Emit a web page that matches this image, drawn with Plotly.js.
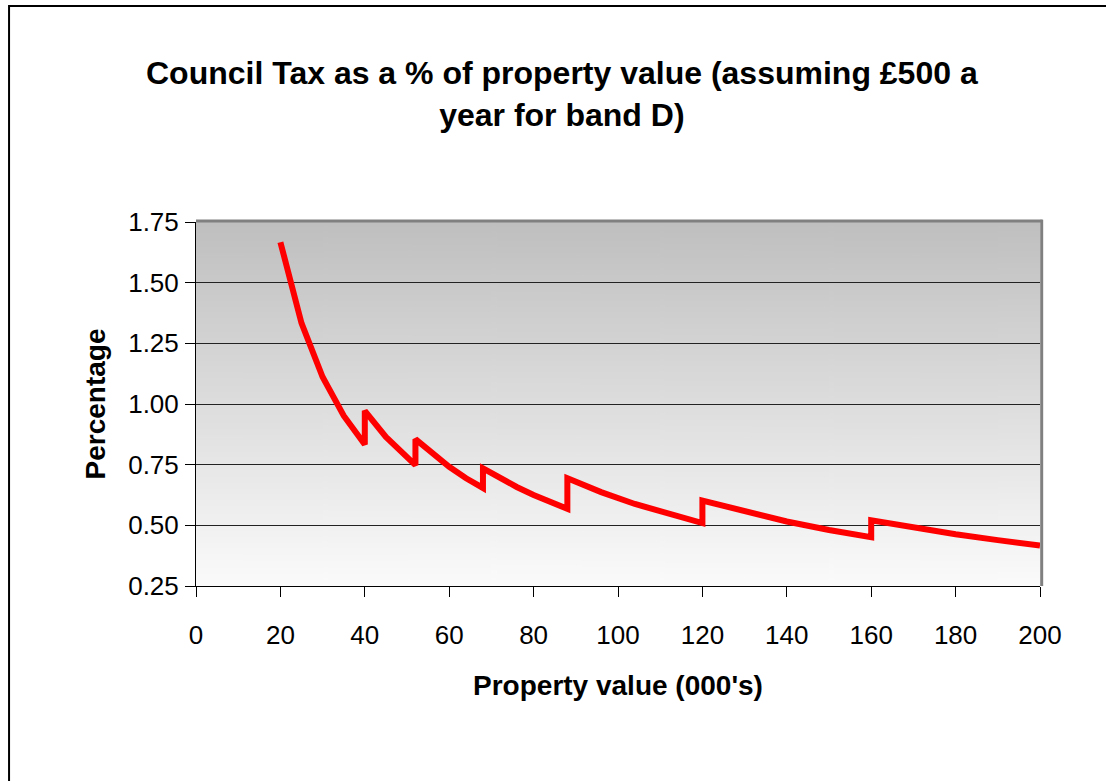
<!DOCTYPE html>
<html>
<head>
<meta charset="utf-8">
<script src="https://cdn.plot.ly/plotly-3.0.1.min.js"></script>
<style>html,body{margin:0;padding:0;background:#fff;}#chart{width:1106px;height:781px;}</style>
</head>
<body>
<div id="chart"></div>
<script>
// Property value (000's)
var propertyValue = [20, 25, 30, 35, 40, 40, 45, 50, 52, 52, 56, 60, 64, 68, 68, 72, 76, 80, 84, 88, 88, 96, 104, 112, 120, 120, 130, 140, 150, 160, 160, 170, 180, 190, 200];
// Council tax as % of property value
var percentage = [1.667, 1.333, 1.111, 0.952, 0.833, 0.972, 0.864, 0.778, 0.748, 0.855, 0.794, 0.741, 0.694, 0.654, 0.735, 0.694, 0.658, 0.625, 0.595, 0.568, 0.694, 0.637, 0.588, 0.546, 0.509, 0.602, 0.556, 0.516, 0.481, 0.451, 0.521, 0.490, 0.463, 0.439, 0.417];
var xTicks = [0, 20, 40, 60, 80, 100, 120, 140, 160, 180, 200];
var yTicks = [0.25, 0.50, 0.75, 1.00, 1.25, 1.50, 1.75];
var yTickText = ['0.25', '0.50', '0.75', '1.00', '1.25', '1.50', '1.75'];

// gradient background image
var cv = document.createElement('canvas');
cv.width = 10; cv.height = 256;
var ctx = cv.getContext('2d');
var g = ctx.createLinearGradient(0, 0, 0, 256);
g.addColorStop(0, '#bfbfbf');
g.addColorStop(1, '#fbfbfb');
ctx.fillStyle = g;
ctx.fillRect(0, 0, 10, 256);
var bgUrl = cv.toDataURL('image/png');

var font = 'Liberation Sans, Arial, sans-serif';

var trace = {
  x: propertyValue,
  y: percentage,
  type: 'scatter',
  mode: 'lines',
  line: {color: '#ff0000', width: 6},
  hoverinfo: 'x+y'
};

var layout = {
  width: 1106, height: 781,
  margin: {l: 196, r: 66, t: 222, b: 195},
  paper_bgcolor: '#ffffff',
  plot_bgcolor: 'rgba(0,0,0,0)',
  showlegend: false,
  title: {
    text: '<b>Council Tax as a % of property value (assuming £500 a<br>year for band D)</b>',
    font: {family: font, size: 32, color: '#000'},
    x: 0.508, xanchor: 'center',
    y: 0.892, yanchor: 'middle'
  },
  xaxis: {
    range: [0, 200],
    tickvals: xTicks,
    ticktext: xTicks.map(String),
    ticks: 'outside', ticklen: 10, tickwidth: 1, tickcolor: '#000',
    ticklabelstandoff: 16,
    showline: true, linecolor: '#000', linewidth: 1,
    showgrid: false, zeroline: false,
    tickfont: {family: font, size: 26, color: '#000'},
    title: {text: '<b>Property value (000\'s)</b>', font: {family: font, size: 28, color: '#000'}, standoff: 26}
  },
  yaxis: {
    range: [0.25, 1.75],
    tickvals: yTicks,
    ticktext: yTickText,
    ticks: 'outside', ticklen: 10, tickwidth: 1, tickcolor: '#000',
    ticklabelstandoff: 1,
    showline: true, linecolor: '#000', linewidth: 1,
    showgrid: true, gridcolor: '#222', gridwidth: 1,
    zeroline: false,
    tickfont: {family: font, size: 26, color: '#000'},
    title: {text: '<b>Percentage</b>', font: {family: font, size: 28, color: '#000'}, standoff: 14}
  },
  images: [{
    source: bgUrl,
    xref: 'paper', yref: 'paper',
    x: 0, y: 1, sizex: 1, sizey: 1,
    sizing: 'stretch',
    xanchor: 'left', yanchor: 'top',
    layer: 'below'
  }],
  shapes: [
    {type: 'line', xref: 'paper', yref: 'paper', x0: 0, x1: 1.003, y0: 1.003, y1: 1.003, line: {color: '#808080', width: 3}, layer: 'above'},
    {type: 'line', xref: 'paper', yref: 'paper', x0: 1.002, x1: 1.002, y0: 0, y1: 1.006, line: {color: '#808080', width: 3}, layer: 'above'},
    {type: 'rect', xref: 'paper', yref: 'paper', x0: -0.2215, x1: 1.09, y0: 1.5935, y1: -0.6, line: {color: '#000', width: 2}, fillcolor: 'rgba(0,0,0,0)'}
  ]
};

Plotly.newPlot('chart', [trace], layout, {displayModeBar: false, staticPlot: true});
</script>
</body>
</html>
